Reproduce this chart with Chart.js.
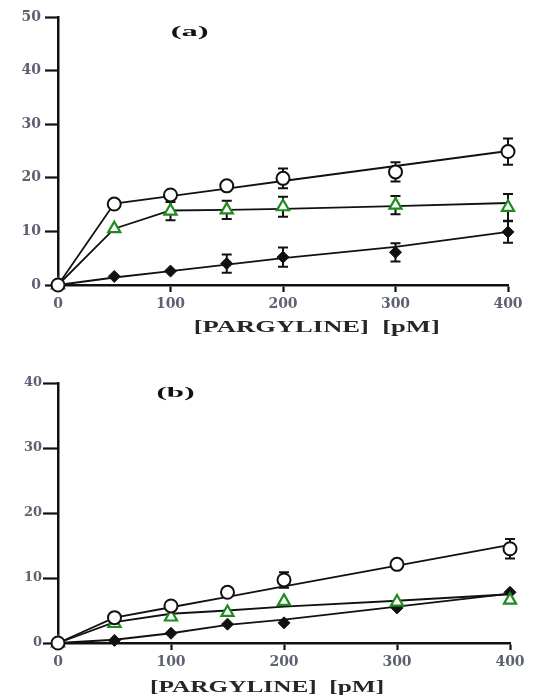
<!DOCTYPE html>
<html>
<head>
<meta charset="utf-8">
<script src="https://cdn.jsdelivr.net/npm/chart.js@4/dist/chart.umd.min.js"></script>
<style>
  html, body { margin: 0; padding: 0; background: #fff; }
  canvas { position: absolute; left: 0; }
  #ca { top: 0; }
  #cb { top: 340px; }
</style>
</head>
<body>
<canvas id="ca" width="533" height="340"></canvas>
<canvas id="cb" width="533" height="355"></canvas>
<script>
// ---- data ----
const xVals = [0, 50, 100, 150, 200, 300, 400];
const xTicks = [0, 100, 200, 300, 400];

// Panel (a)
const openA    = [0, 15.1, 16.8, 18.5, 19.9, 21.1, 24.9];
const openAErr = [0, 0, 0, 0, 1.85, 1.8, 2.45];
const openAFit = [0, 15.2, 16.6, 18.0, 19.4, 22.2, 25.0];
const triA     = [0, 10.5, 13.8, 14.0, 14.6, 14.9, 14.5];
const triAErr  = [0, 0, 1.7, 1.7, 1.85, 1.7, 2.5];
const triAFit  = [0, 10.5, 13.9, 14.0, 14.2, 14.7, 15.3];
const diaA     = [0, 1.6, 2.6, 4.0, 5.2, 6.1, 9.9];
const diaAErr  = [0, 0, 0, 1.7, 1.8, 1.7, 2.0];
const diaAFit  = [0, 1.4, 2.6, 3.8, 5.0, 7.1, 9.9];

// Panel (b)
const openB    = [0, 3.9, 5.7, 7.8, 9.7, 12.1, 14.5];
const openBErr = [0, 0, 0, 0, 1.2, 0, 1.5];
const openBFit = [0, 3.9, 5.5, 7.1, 8.7, 11.9, 15.1];
const triB     = [0, 3.0, 4.0, 4.7, 6.4, 6.3, 6.6];
const triBErr  = [0, 0, 0, 0, 0, 0, 0];
const triBFit  = [0, 3.2, 4.5, 5.0, 5.6, 6.5, 7.5];
const diaB     = [0, 0.4, 1.5, 2.9, 3.1, 5.4, 7.8];
const diaBErr  = [0, 0, 0, 0, 0, 0, 0];
const diaBFit  = [0, 0.5, 1.5, 2.8, 3.6, 5.6, 7.6];

const xTitle = '[PARGYLINE]  [pM]';

// ---- helpers ----
const pts = ys => xVals.map((x, i) => ({ x: x, y: ys[i] }));
const INK = '#111';
const GREEN = '#1c8c1c';
const TICKCOL = '#5c6272';
const TICKFONT = 'DejaVu Serif';

const errorBars = {
  id: 'errorBars',
  beforeDatasetsDraw(chart) {
    const ctx = chart.ctx, xs = chart.scales.x, ys = chart.scales.y;
    ctx.save();
    ctx.strokeStyle = INK;
    ctx.lineWidth = 2;
    chart.data.datasets.forEach(ds => {
      if (!ds.err) return;
      ds.data.forEach((p, i) => {
        const e = ds.err[i];
        if (!e) return;
        const px = xs.getPixelForValue(p.x);
        const top = ys.getPixelForValue(p.y + e);
        const bot = ys.getPixelForValue(p.y - e);
        ctx.beginPath();
        ctx.moveTo(px, top); ctx.lineTo(px, bot);
        ctx.moveTo(px - 5, top); ctx.lineTo(px + 5, top);
        ctx.moveTo(px - 5, bot); ctx.lineTo(px + 5, bot);
        ctx.stroke();
      });
    });
    ctx.restore();
  }
};

// draws a text horizontally stretched to a given width (the reference type is wide)
function wideText(ctx, str, cx, cy, font, width, color) {
  ctx.save();
  ctx.font = font;
  ctx.fillStyle = color;
  ctx.textAlign = 'center';
  ctx.textBaseline = 'middle';
  const w = ctx.measureText(str).width;
  const k = width / w;
  ctx.translate(cx, cy);
  ctx.scale(k, 1);
  ctx.fillText(str, 0, 0);
  ctx.restore();
}

const texts = {
  id: 'texts',
  afterDraw(chart, args, opts) {
    const ctx = chart.ctx, xs = chart.scales.x, ys = chart.scales.y;
    wideText(ctx, opts.panel, xs.getPixelForValue(opts.panelX), ys.getPixelForValue(opts.panelY),
      'bold 15px "Liberation Serif"', 38, INK);
    wideText(ctx, xTitle, xs.getPixelForValue(opts.titleX), opts.titleY,
      'bold 16px "Liberation Serif"', opts.titleW, '#262626');
  }
};

function makeChart(id, cfg) {
  const lineDs = (fit) => ({
    type: 'scatter', data: pts(fit), showLine: true, pointRadius: 0,
    borderColor: INK, borderWidth: 1.8, fill: false, clip: false
  });
  const datasets = [
    { data: pts(cfg.open), err: cfg.openErr, pointStyle: 'circle', pointRadius: 6.5,
      pointBackgroundColor: '#fff', pointBorderColor: INK, pointBorderWidth: 2, showLine: false, clip: false },
    { data: pts(cfg.tri), err: cfg.triErr, pointStyle: 'triangle', pointRadius: 7,
      pointBackgroundColor: '#fff', pointBorderColor: GREEN, pointBorderWidth: 2.2, showLine: false, clip: false },
    { data: pts(cfg.dia), err: cfg.diaErr, pointStyle: 'rectRot', pointRadius: 6,
      pointBackgroundColor: INK, pointBorderColor: INK, pointBorderWidth: 1, showLine: false, clip: false },
    lineDs(cfg.openFit), lineDs(cfg.triFit), lineDs(cfg.diaFit)
  ];
  return new Chart(document.getElementById(id), {
    type: 'scatter',
    data: { datasets },
    plugins: [errorBars, texts],
    options: {
      responsive: false,
      animation: false,
      layout: { padding: { left: 0, right: cfg.padRight, top: cfg.padTop, bottom: 0 } },
      plugins: {
        legend: { display: false },
        tooltip: { enabled: false },
        texts: cfg.texts
      },
      scales: {
        x: {
          type: 'linear', min: 0, max: 400,
          afterFit: s => { s.height = cfg.xHeight; },
          afterBuildTicks: s => { s.ticks = xTicks.map(v => ({ value: v })); },
          border: { display: true, color: INK, width: 2.5 },
          grid: { display: true, drawOnChartArea: false, drawTicks: true, tickLength: 7, tickWidth: 2.2, tickColor: INK },
          ticks: { padding: 4, color: TICKCOL, font: { family: TICKFONT, size: 14, weight: 'bold' } }
        },
        y: {
          type: 'linear', min: 0, max: cfg.yMax,
          afterFit: s => { s.width = 58; },
          afterBuildTicks: s => { s.ticks = cfg.yTicks.map(v => ({ value: v })); },
          border: { display: true, color: INK, width: 2.5 },
          grid: { display: true, drawOnChartArea: false, drawTicks: true, tickLength: cfg.yTickLen, tickWidth: 2.2, tickColor: INK },
          ticks: { padding: cfg.yPad, color: TICKCOL, font: { family: TICKFONT, size: cfg.yFont, weight: 'bold' } }
        }
      }
    }
  });
}

makeChart('ca', {
  open: openA, openErr: openAErr, openFit: openAFit,
  tri: triA, triErr: triAErr, triFit: triAFit,
  dia: diaA, diaErr: diaAErr, diaFit: diaAFit,
  yMax: 50, yTicks: [0, 10, 20, 30, 40, 50],
  padRight: 25, padTop: 17, xHeight: 55,
  yTickLen: 13, yPad: 4, yFont: 14,
  texts: { panel: '(a)', panelX: 117, panelY: 47.2, titleX: 230, titleY: 328, titleW: 246 }
});

makeChart('cb', {
  open: openB, openErr: openBErr, openFit: openBFit,
  tri: triB, triErr: triBErr, triFit: triBFit,
  dia: diaB, diaErr: diaBErr, diaFit: diaBFit,
  yMax: 40, yTicks: [0, 10, 20, 30, 40],
  padRight: 23, padTop: 43, xHeight: 52,
  yTickLen: 15, yPad: 1, yFont: 13,
  texts: { panel: '(b)', panelX: 104, panelY: 38.5, titleX: 185, titleY: 348, titleW: 234 }
});
</script>
</body>
</html>
